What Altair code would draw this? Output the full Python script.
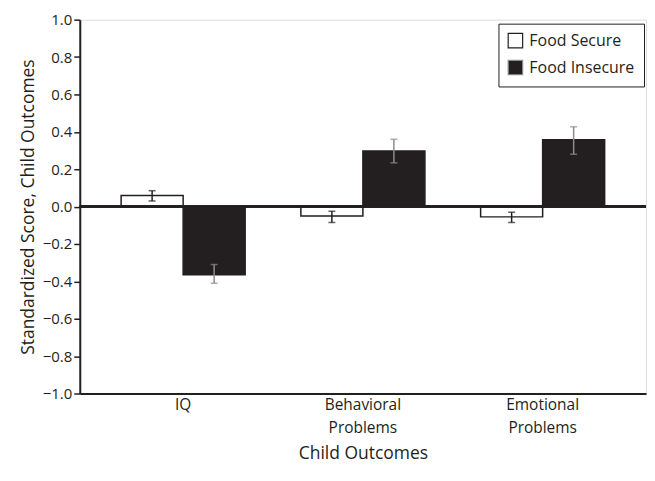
import altair as alt
import pandas as pd

outcomes = ["IQ", "Behavioral Problems", "Emotional Problems"]
groups = ["Food Secure", "Food Insecure"]
secure_vals = [0.06, -0.05, -0.055]
secure_lo = [0.03, -0.085, -0.085]
secure_hi = [0.085, -0.025, -0.03]
insecure_vals = [-0.365, 0.298, 0.357]
insecure_lo = [-0.41, 0.234, 0.28]
insecure_hi = [-0.31, 0.36, 0.427]
y_ticks = [-1.0, -0.8, -0.6, -0.4, -0.2, 0.0, 0.2, 0.4, 0.6, 0.8, 1.0]

rows = []
for i, o in enumerate(outcomes):
    rows.append({"outcome": o, "group": groups[0], "value": secure_vals[i], "lo": secure_lo[i], "hi": secure_hi[i]})
    rows.append({"outcome": o, "group": groups[1], "value": insecure_vals[i], "lo": insecure_lo[i], "hi": insecure_hi[i]})
df = pd.DataFrame(rows)

FONT = "Open Sans"
INK = "#231f20"

x_enc = alt.X("outcome:N", sort=outcomes,
              scale=alt.Scale(paddingInner=0.31, paddingOuter=0.23),
              axis=alt.Axis(title="Child Outcomes", labelAngle=0, ticks=False,
                            labelExpr="split(datum.label, ' ')",
                            labelFontSize=15.5, labelLineHeight=23, labelPadding=4,
                            labelColor=INK, titleFontSize=17.5, titleColor=INK,
                            titleFontWeight="normal", titlePadding=9,
                            domainColor=INK, domainWidth=2, labelFont=FONT, titleFont=FONT))
xo = alt.XOffset("group:N", sort=groups)

base = alt.Chart(df)

y_axis = alt.Axis(title="Standardized Score, Child Outcomes", values=y_ticks,
                  tickCount=11, labelOverlap=False,
                  format=".1f", grid=False, tickSize=6, tickColor=INK,
                  domainColor=INK, domainWidth=2, tickWidth=1.5,
                  labelFontSize=15, labelColor=INK, labelFont=FONT,
                  titleFontSize=17.5, titleColor=INK, titleFont=FONT,
                  titleFontWeight="normal", titlePadding=5)

bars = base.mark_bar(stroke=INK, strokeWidth=1.5).encode(
    x=x_enc,
    xOffset=xo,
    y=alt.Y("value:Q", scale=alt.Scale(domain=[-1, 1], nice=False), axis=y_axis),
    fill=alt.Fill("group:N", sort=groups,
                  scale=alt.Scale(domain=groups, range=["white", INK]),
                  legend=alt.Legend(title=None, orient="none", legendX=420, legendY=4,
                                    strokeColor=INK, padding=9, symbolType="square",
                                    symbolSize=210, symbolStrokeColor=INK,
                                    symbolStrokeWidth=1.2, labelFontSize=16,
                                    labelFont=FONT, labelColor=INK, rowPadding=7,
                                    labelOffset=6)),
)

zero = base.mark_rule(color=INK, strokeWidth=2).encode(y=alt.datum(0))

ecol = alt.Color("group:N", scale=alt.Scale(domain=groups, range=[INK, "#8c8c8c"]), legend=None)

err = base.mark_rule(strokeWidth=1.5).encode(
    x=x_enc, xOffset=xo, y="lo:Q", y2="hi:Q", color=ecol)
cap_lo = base.mark_tick(orient="horizontal", size=7, thickness=1.5).encode(
    x=x_enc, xOffset=xo, y="lo:Q", color=ecol)
cap_hi = base.mark_tick(orient="horizontal", size=7, thickness=1.5).encode(
    x=x_enc, xOffset=xo, y="hi:Q", color=ecol)

chart = alt.layer(bars, zero, err, cap_lo, cap_hi).properties(
    width=568, height=375,
    padding={"left": 11, "top": 4, "right": 0, "bottom": 2},
).configure_view(stroke=None).configure(background="white")

chart.save("out.html", embed_options={"renderer": "svg", "actions": False})
